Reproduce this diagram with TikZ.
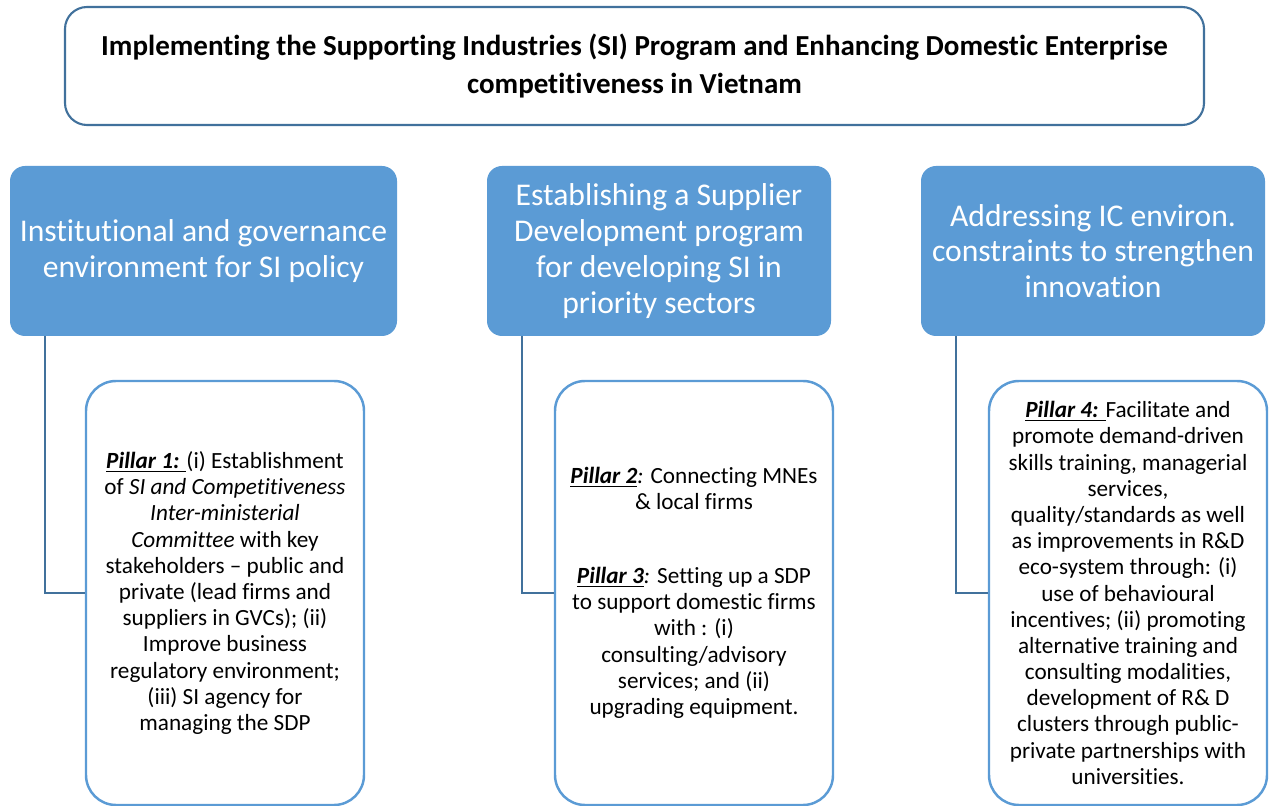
\documentclass[tikz,border=0pt]{standalone}
\usepackage{fontspec}
\setmainfont{Carlito}[Ligatures=NoCommon]
\usepackage{xcolor}
\usetikzlibrary{calc}

\definecolor{pillarblue}{HTML}{5B9BD5}
\definecolor{lineblue}{HTML}{41719C}

\begin{document}
\begin{tikzpicture}[
	titlebox/.style={draw=lineblue, line width=1.2pt, fill=white, rounded corners=0.44cm,
		align=center, font=\fontsize{16.5}{21.5}\selectfont\bfseries},
	headbox/.style={fill=pillarblue, rounded corners=0.3cm, text=white,
		align=center, font=\fontsize{18}{20.4}\selectfont},
	pillarbox/.style={draw=pillarblue, line width=1.4pt, fill=white, rounded corners=0.6cm,
		minimum width=5.56cm, minimum height=8.48cm, align=center,
		font=\fontsize{13.2}{14.9}\selectfont},
	link/.style={draw=lineblue, line width=1.2pt}
]
	\useasboundingbox (0,0) rectangle (25.52,-16.12);
	% top
	\node[titlebox, minimum width=22.78cm, minimum height=2.36cm] (top) at (12.69,-1.32)
		{Implementing the Supporting Industries (SI) Program and Enhancing Domestic Enterprise\\
		competitiveness in Vietnam};
	% headings
	\node[headbox, minimum width=7.74cm, minimum height=3.4cm] (b1) at (4.07,-5.02)
		{Institutional and governance\\environment for SI policy};
	\node[headbox, minimum width=6.88cm, minimum height=3.4cm] (b2) at (13.18,-5.02)
		{Establishing a Supplier\\Development program\\for developing SI in\\priority sectors};
	\node[headbox, minimum width=6.88cm, minimum height=3.4cm] (b3) at (21.86,-5.02)
		{Addressing IC environ.\\constraints to strengthen\\innovation};
	% pillars
	\node[pillarbox] (p1) at (4.5,-11.86)
		{\underline{\textbf{\textit{Pillar 1:}} }(i) Establishment\\
		of \textit{SI and Competitiveness}\\
		\textit{Inter-ministerial}\\
		\textit{Committee} with key\\
		stakeholders -- public and\\
		private (lead firms and\\
		suppliers in GVCs); (ii)\\
		Improve business\\
		regulatory environment;\\
		(iii) SI agency for\\
		managing the SDP};
	\node[pillarbox] (p2) at (13.88,-11.86)
		{\underline{\textbf{\textit{Pillar 2}}}\textit{:} Connecting MNEs\\
		\& local firms\\[27pt]
		\underline{\textbf{\textit{Pillar 3}}}\textit{:} Setting up a SDP\\
		to support domestic firms\\
		with : (i)\\
		consulting/advisory\\
		services; and (ii)\\
		upgrading equipment.};
	\node[pillarbox] (p3) at (22.56,-11.86)
		{\underline{\textbf{\textit{Pillar 4:}} }Facilitate and\\
		promote demand-driven\\
		skills training, managerial\\
		services,\\
		quality/standards as well\\
		as improvements in R\&D\\
		eco-system through: (i)\\
		use of behavioural\\
		incentives; (ii) promoting\\
		alternative training and\\
		consulting modalities,\\
		development of R\& D\\
		clusters through public-\\
		private partnerships with\\
		universities.};
	% connectors
	\foreach \b/\p in {b1/p1, b2/p2, b3/p3}
	\draw[link] ($(\b.south west)+(0.7,0)$) |- (\p.west);
\end{tikzpicture}
\end{document}
